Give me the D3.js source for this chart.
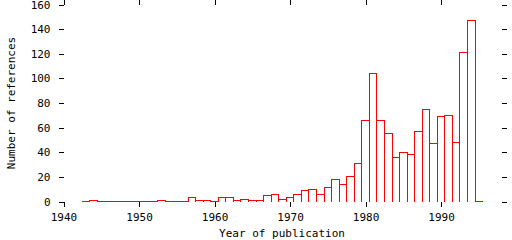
<!DOCTYPE html>
<html>
<head>
<meta charset="utf-8">
<script src="https://cdn.jsdelivr.net/npm/d3@7"></script>
<style>
  body { margin: 0; background: #fff; }
  text { font-family: "DejaVu Sans Mono", monospace; font-size: 11px; fill: #000; }
</style>
</head>
<body>
<div id="vis"></div>
<script>
const width = 512
const height = 240

// publication years (one bin per year) and number of references
const years = [1943, 1944, 1945, 1946, 1947, 1948, 1949, 1950, 1951, 1952,
    1953, 1954, 1955, 1956, 1957, 1958, 1959, 1960, 1961, 1962,
    1963, 1964, 1965, 1966, 1967, 1968, 1969, 1970, 1971, 1972,
    1973, 1974, 1975, 1976, 1977, 1978, 1979, 1980, 1981, 1982,
    1983, 1984, 1985, 1986, 1987, 1988, 1989, 1990, 1991, 1992,
    1993, 1994, 1995]
const counts = [0, 1, 0, 0, 0, 0, 0, 0, 0, 0,
    1, 0, 0, 0, 3, 1, 1, 0, 3, 3,
    1, 2, 1, 1, 5, 6, 2, 3, 6, 9,
    10, 6, 11, 18, 14, 20, 31, 66, 104, 66,
    55, 36, 40, 38, 57, 75, 47, 69, 70, 48,
    121, 147, 0]

const xTicks = [1940, 1950, 1960, 1970, 1980, 1990]
const yTicks = [0, 20, 40, 60, 80, 100, 120, 140, 160]

var data = years.map((yr, i) => ({ year: yr, n: counts[i] }))

var x = d3.scaleLinear().domain([1940, 1998]).range([63.5, 501.5])
var y = d3.scaleLinear().domain([0, 160]).range([201.5, 4.5])

var svg = d3.select("#vis")
    .append("svg")
    .attr("width", width)
    .attr("height", height)
    .style("display", "block")

// bars as open boxes so empty years still draw on the baseline
svg.append("g")
    .selectAll("path")
    .data(data)
    .join("path")
    .attr("fill", "none")
    .attr("stroke", "#ff0000")
    .attr("stroke-width", 1)
    .attr("shape-rendering", "crispEdges")
    .attr("d", d => {
        const x0 = x(d.year - 0.5), x1 = x(d.year + 0.5)
        return `M${x0},${y(0)}V${y(d.n)}H${x1}V${y(0)}`
    })

function styleAxis(g) {
    g.select(".domain").remove()
    g.selectAll("line").attr("stroke", "#000").attr("shape-rendering", "crispEdges")
    g.selectAll("text").attr("font-family", null).attr("font-size", null)
}

svg.append("g")
    .attr("transform", `translate(${x(1940)},0)`)
    .call(d3.axisLeft(y).tickValues(yTicks).tickSize(5).tickPadding(8))
    .call(styleAxis)

svg.append("g")
    .attr("transform", `translate(${x(1998)},0)`)
    .call(d3.axisRight(y).tickValues(yTicks).tickSize(5).tickFormat(""))
    .call(styleAxis)

svg.append("g")
    .attr("transform", `translate(0,${y(0)})`)
    .call(d3.axisBottom(x).tickValues(xTicks).tickSize(5).tickPadding(7).tickFormat(d3.format("d")))
    .call(styleAxis)

svg.append("g")
    .attr("transform", `translate(0,${y(160)})`)
    .call(d3.axisTop(x).tickValues(xTicks).tickSize(5).tickFormat(""))
    .call(styleAxis)

svg.append("text")
    .attr("x", 282)
    .attr("y", 237)
    .attr("text-anchor", "middle")
    .text("Year of publication")

svg.append("text")
    .attr("transform", "translate(15,103) rotate(-90)")
    .attr("text-anchor", "middle")
    .text("Number of references")
</script>
</body>
</html>
